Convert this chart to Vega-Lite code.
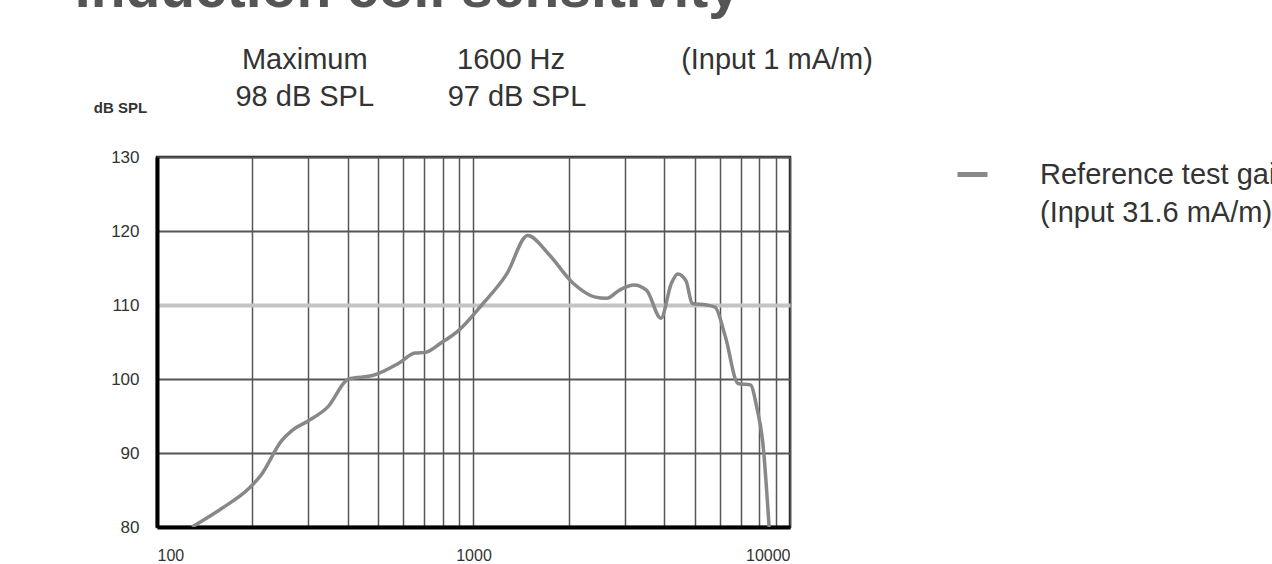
{
  "$schema": "https://vega.github.io/schema/vega-lite/v6.json",
  "width": 633,
  "height": 370,
  "autosize": {"type": "none"},
  "padding": {"left": 157, "top": 157, "right": 482, "bottom": 37},
  "background": "white",
  "config": {
    "view": {"stroke": "#222", "strokeWidth": 2.5},
    "font": "Liberation Sans"
  },
  "datasets": {
    "curve": [
      {"freq": 129, "db": 80.0, "series": "ref"},
      {"freq": 160, "db": 82.5, "series": "ref"},
      {"freq": 195, "db": 85.2, "series": "ref"},
      {"freq": 213, "db": 87.0, "series": "ref"},
      {"freq": 248, "db": 91.7, "series": "ref"},
      {"freq": 268, "db": 93.1, "series": "ref"},
      {"freq": 302, "db": 94.4, "series": "ref"},
      {"freq": 346, "db": 96.2, "series": "ref"},
      {"freq": 403, "db": 100.0, "series": "ref"},
      {"freq": 483, "db": 100.5, "series": "ref"},
      {"freq": 579, "db": 102.1, "series": "ref"},
      {"freq": 654, "db": 103.5, "series": "ref"},
      {"freq": 706, "db": 103.6, "series": "ref"},
      {"freq": 785, "db": 104.8, "series": "ref"},
      {"freq": 900, "db": 106.6, "series": "ref"},
      {"freq": 1062, "db": 110.0, "series": "ref"},
      {"freq": 1274, "db": 114.2, "series": "ref"},
      {"freq": 1483, "db": 119.4, "series": "ref"},
      {"freq": 1726, "db": 116.9, "series": "ref"},
      {"freq": 2069, "db": 112.9, "series": "ref"},
      {"freq": 2409, "db": 111.1, "series": "ref"},
      {"freq": 2637, "db": 110.9, "series": "ref"},
      {"freq": 2888, "db": 112.0, "series": "ref"},
      {"freq": 3215, "db": 112.7, "series": "ref"},
      {"freq": 3519, "db": 112.0, "series": "ref"},
      {"freq": 3910, "db": 108.2, "series": "ref"},
      {"freq": 4217, "db": 112.9, "series": "ref"},
      {"freq": 4414, "db": 114.2, "series": "ref"},
      {"freq": 4690, "db": 113.3, "series": "ref"},
      {"freq": 4910, "db": 110.2, "series": "ref"},
      {"freq": 5458, "db": 110.0, "series": "ref"},
      {"freq": 5800, "db": 109.7, "series": "ref"},
      {"freq": 6250, "db": 105.7, "series": "ref"},
      {"freq": 6850, "db": 99.4, "series": "ref"},
      {"freq": 7500, "db": 99.2, "series": "ref"},
      {"freq": 7850, "db": 96.2, "series": "ref"},
      {"freq": 8210, "db": 91.3, "series": "ref"},
      {"freq": 8590, "db": 80.0, "series": "ref"}
    ],
    "headers": [
      {"label": "Maximum", "freq": 293, "db": 143.1},
      {"label": "98 dB SPL", "freq": 293, "db": 138.1},
      {"label": "1600 Hz", "freq": 1314, "db": 143.1},
      {"label": "97 dB SPL", "freq": 1372, "db": 138.1},
      {"label": "(Input 1 mA/m)", "freq": 9100, "db": 143.1}
    ],
    "title": [
      {"label": "Induction coil sensitivity", "freq": 55, "db": 150.3}
    ]
  },
  "layer": [
    {
      "data": {"name": "curve"},
      "mark": {"type": "line", "strokeWidth": 3.5, "interpolate": "monotone", "clip": true},
      "encoding": {
        "x": {
          "field": "freq",
          "type": "quantitative",
          "scale": {"type": "log", "domain": [100, 10000], "nice": false},
          "axis": {
            "title": null,
            "values": [100, 200, 300, 400, 500, 600, 700, 800, 900, 1000, 2000, 3000, 4000, 5000, 6000, 7000, 8000, 9000, 10000],
            "format": "d",
            "labelExpr": "datum.value == 100 || datum.value == 1000 || datum.value == 10000 ? datum.label : ''",
            "labelOverlap": false,
            "labelFontSize": 16,
            "labelColor": "#333",
            "labelBaseline": "top",
            "labelPadding": 20,
            "ticks": false,
            "domainColor": "#000",
            "domainWidth": 4,
            "gridColor": "#555",
            "gridWidth": 1.5
          }
        },
        "y": {
          "field": "db",
          "type": "quantitative",
          "scale": {"domain": [80, 130], "nice": false, "zero": false},
          "axis": {
            "values": [80, 90, 100, 110, 120, 130],
            "title": "dB SPL",
            "titleAngle": 0,
            "titleX": -37,
            "titleY": -50,
            "titleAlign": "center",
            "titleBaseline": "middle",
            "titleFontSize": 15,
            "titleFontWeight": "bold",
            "titleColor": "#333",
            "labelFontSize": 17,
            "labelColor": "#333",
            "labelPadding": 18,
            "ticks": false,
            "domainColor": "#000",
            "domainWidth": 4,
            "gridColor": {"condition": {"test": "datum.value === 110", "value": "#c4c4c4"}, "value": "#555"},
            "gridWidth": {"condition": {"test": "datum.value === 110", "value": 4}, "value": 2}
          }
        },
        "color": {
          "field": "series",
          "type": "nominal",
          "scale": {"range": ["#888"]},
          "legend": {
            "title": null,
            "orient": "right",
            "offset": 165,
            "padding": 0,
            "symbolType": "stroke",
            "symbolSize": 900,
            "symbolStrokeWidth": 5,
            "labelOffset": 50,
            "labelFontSize": 29,
            "labelColor": "#333",
            "labelLimit": 600,
            "labelBaseline": "alphabetic",
            "labelExpr": "['Reference test gain', '(Input 31.6 mA/m)']",
            "encode": {"labels": {"update": {"lineHeight": {"value": 38}, "dy": {"value": 9}}}}
          }
        }
      }
    },
    {
      "data": {"name": "headers"},
      "mark": {"type": "text", "fontSize": 29, "color": "#333", "align": "center", "baseline": "middle", "clip": false},
      "encoding": {
        "x": {"field": "freq", "type": "quantitative"},
        "y": {"field": "db", "type": "quantitative"},
        "text": {"field": "label"}
      }
    },
    {
      "data": {"name": "title"},
      "mark": {"type": "text", "fontSize": 57, "fontWeight": "bold", "color": "#555", "align": "left", "baseline": "alphabetic", "clip": false},
      "encoding": {
        "x": {"field": "freq", "type": "quantitative"},
        "y": {"field": "db", "type": "quantitative"},
        "text": {"field": "label"}
      }
    }
  ]
}
